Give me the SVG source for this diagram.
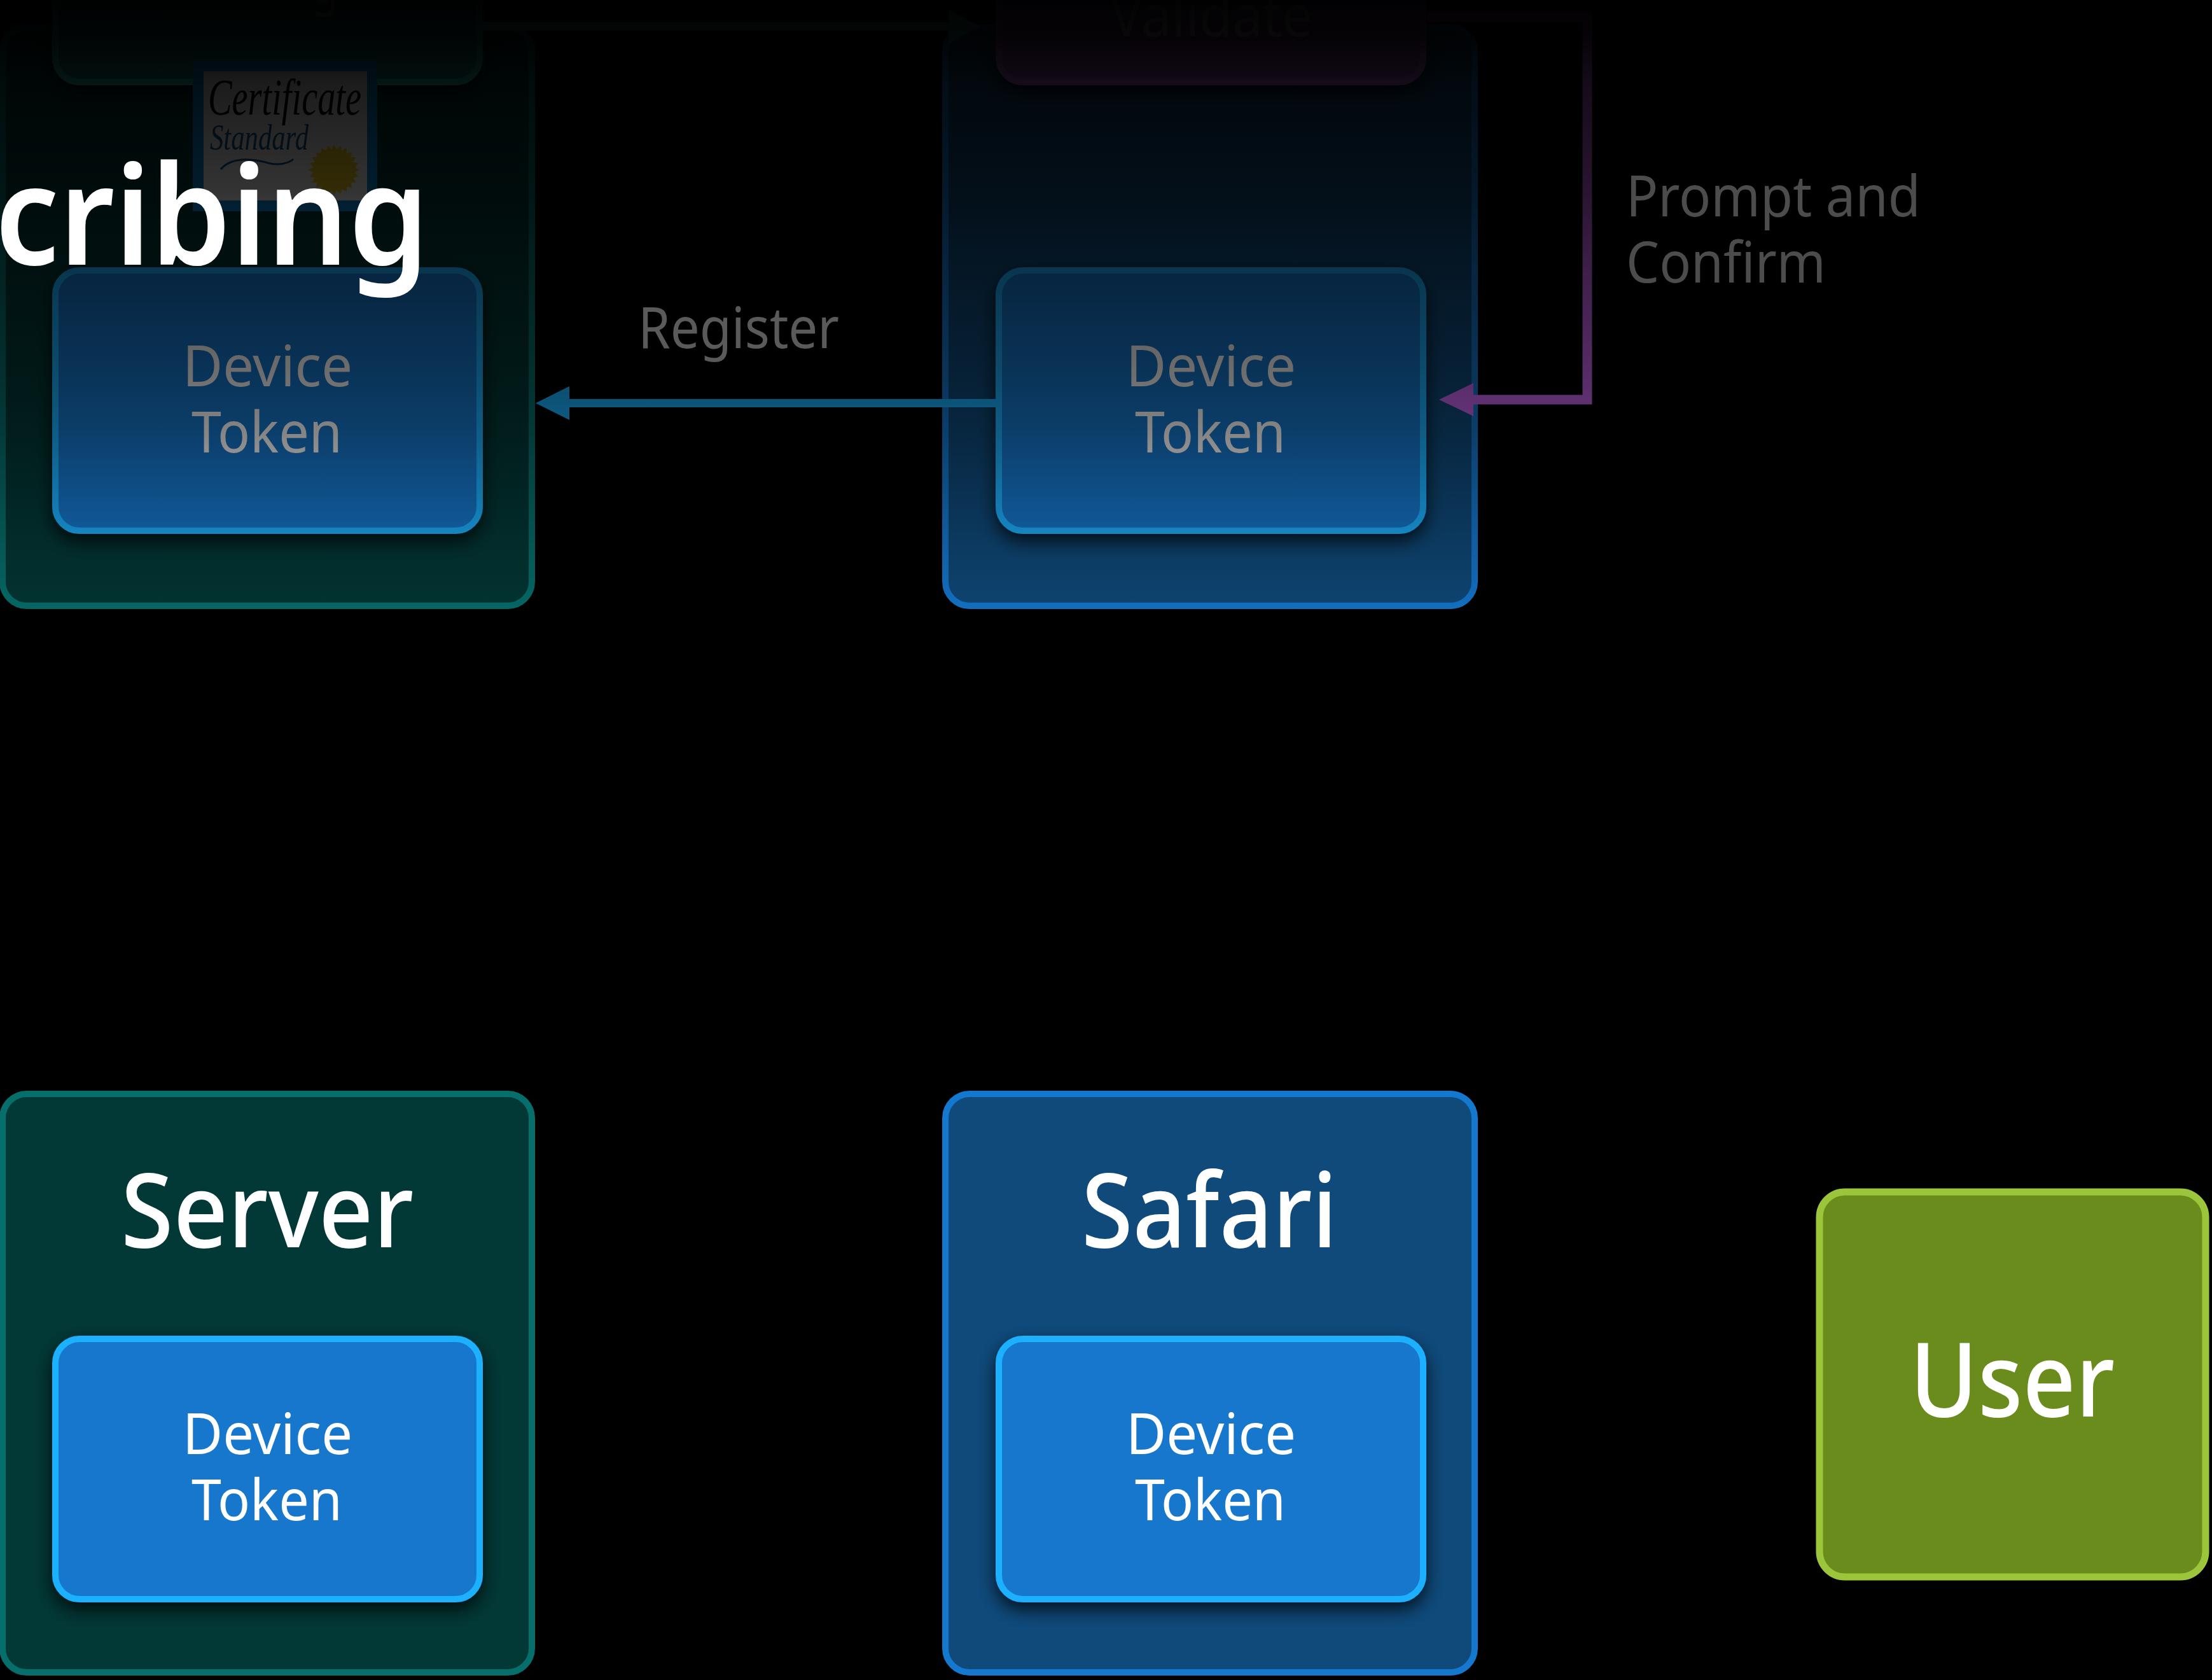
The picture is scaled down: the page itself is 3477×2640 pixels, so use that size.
<svg xmlns="http://www.w3.org/2000/svg" width="3477" height="2640" viewBox="0 0 3477 2640">
<style>
text{font-family:"Noto Sans","Open Sans","Liberation Sans",sans-serif;fill:#fff}
.t{font-size:90px}
.h{font-size:162px;font-weight:550}
.srv{fill:#023836;stroke:#066f6c;stroke-width:10}
.saf{fill:#0f4a7b;stroke:#1478cf;stroke-width:10}
.tok{fill:#1377cc;stroke:#1ab0ff;stroke-width:10;filter:url(#sh)}
.tel{fill:#0a8a80;stroke:#2fc8c0;stroke-width:10;filter:url(#sh)}
.val{fill:#a050c0;stroke:#c866ee;stroke-width:10;filter:url(#sh)}
.lb{fill:#5a5a5a}
</style>
<defs>
<filter id="sh" x="-10%" y="-10%" width="120%" height="125%"><feDropShadow dx="0" dy="12" stdDeviation="14" flood-color="#000" flood-opacity=".75"/></filter>
<linearGradient id="fade" gradientUnits="userSpaceOnUse" x1="0" y1="0" x2="0" y2="1000">
<stop offset="0" stop-color="#000" stop-opacity=".99"/>
<stop offset=".06" stop-color="#000" stop-opacity=".965"/>
<stop offset=".134" stop-color="#000" stop-opacity=".89"/>
<stop offset=".3" stop-color="#000" stop-opacity=".8"/>
<stop offset=".43" stop-color="#000" stop-opacity=".69"/>
<stop offset=".59" stop-color="#000" stop-opacity=".57"/>
<stop offset=".68" stop-color="#000" stop-opacity=".48"/>
<stop offset=".83" stop-color="#000" stop-opacity=".26"/>
<stop offset=".957" stop-color="#000" stop-opacity=".08"/>
<stop offset="1" stop-color="#000" stop-opacity="0"/>
</linearGradient>
</defs>
<rect width="3477" height="2640" fill="#000"/>

<g id="server-top"><rect class="srv" x="4" y="43" width="832" height="909" rx="38"/></g>
<g id="safari-top"><rect class="saf" x="1486" y="43" width="832" height="909" rx="38"/></g>
<g id="server-upper-box"><rect class="tel" x="87" y="-280" width="667" height="409" rx="38"/><text class="t" x="490" y="5" textLength="42" lengthAdjust="spacingAndGlyphs">g</text></g>
<g id="safari-validate"><rect class="val" x="1570" y="-280" width="667" height="409" rx="38"/><text class="t" x="1745" y="57" textLength="318" lengthAdjust="spacingAndGlyphs">Validate</text></g>
<g id="certificate">
<rect x="303" y="95" width="290" height="237" fill="#0a8fe0"/>
<rect x="320" y="112" width="257" height="203" fill="#fff"/>
<text x="327" y="180" font-size="80" textLength="241" lengthAdjust="spacingAndGlyphs" style="font-family:'Liberation Serif',serif;font-style:italic;fill:#000">Certificate</text>
<text x="330" y="235" font-size="56" textLength="155" lengthAdjust="spacingAndGlyphs" style="font-family:'Liberation Serif',serif;font-style:italic;fill:#0a5a9a">Standard</text>
<path d="M347 266C365 245 400 250 425 257C440 260 455 256 461 250" fill="none" stroke="#0a5a9a" stroke-width="3"/>
<polygon transform="translate(525 267)" fill="#ffd820" points="40,0 32.7,4.3 38.6,10.4 30.5,12.6 34.6,20 26.2,20.1 28.3,28.3 20.1,26.2 20,34.6 12.6,30.5 10.4,38.6 4.3,32.7 0,40 -4.3,32.7 -10.4,38.6 -12.6,30.5 -20,34.6 -20.1,26.2 -28.3,28.3 -26.2,20.1 -34.6,20 -30.5,12.6 -38.6,10.4 -32.7,4.3 -40,0 -32.7,-4.3 -38.6,-10.4 -30.5,-12.6 -34.6,-20 -26.2,-20.1 -28.3,-28.3 -20.1,-26.2 -20,-34.6 -12.6,-30.5 -10.4,-38.6 -4.3,-32.7 0,-40 4.3,-32.7 10.4,-38.6 12.6,-30.5 20,-34.6 20.1,-26.2 28.3,-28.3 26.2,-20.1 34.6,-20 30.5,-12.6 38.6,-10.4 32.7,-4.3"/>
</g>
<g id="server-token-top"><rect class="tok" x="87" y="425" width="667" height="409" rx="38"/><text class="t" x="287" y="607" textLength="267" lengthAdjust="spacingAndGlyphs">Device</text><text class="t" x="301" y="711" textLength="237" lengthAdjust="spacingAndGlyphs">Token</text></g>
<g id="safari-token-top"><rect class="tok" x="1570" y="425" width="667" height="409" rx="38"/><text class="t" x="1770" y="607" textLength="267" lengthAdjust="spacingAndGlyphs">Device</text><text class="t" x="1784" y="711" textLength="237" lengthAdjust="spacingAndGlyphs">Token</text></g>

<g id="connectors">
<path d="M759 41.500H1491" fill="none" stroke="#3ce0d0" stroke-width="13"/>
<polygon points="1541,41.500 1491,15 1491,68" fill="#3ce0d0"/>
<path d="M2243 27H2495V628H2316" fill="none" stroke="#c866ee" stroke-width="15"/>
<polygon points="2262,628 2316,602 2316,654" fill="#c866ee"/>
<path d="M1565 633.500H895" fill="none" stroke="#1ab0ff" stroke-width="13"/>
<polygon points="842,633.500 895,607 895,660" fill="#1ab0ff"/>
</g>

<rect id="fade-overlay" x="0" y="0" width="3477" height="1000" fill="url(#fade)"/>

<g id="labels">
<text class="t lb" x="1003" y="547" textLength="316" lengthAdjust="spacingAndGlyphs">Register</text>
<text class="t" x="2556" y="340" textLength="463" lengthAdjust="spacingAndGlyphs" style="fill:#4c4c4c">Prompt and</text>
<text class="t" x="2556" y="444" textLength="314" lengthAdjust="spacingAndGlyphs" style="fill:#4c4c4c">Confirm</text>
</g>

<g id="title"><text x="-8" y="416" font-size="218" font-weight="600" textLength="682" lengthAdjust="spacingAndGlyphs">cribing</text></g>

<g id="server">
<rect class="srv" x="4" y="1719" width="832" height="909" rx="38"/>
<text class="h" x="190" y="1960" textLength="460" lengthAdjust="spacingAndGlyphs">Server</text>
</g>
<g id="server-token"><rect class="tok" x="87" y="2104" width="667" height="409" rx="38"/><text class="t" x="287" y="2285" textLength="267" lengthAdjust="spacingAndGlyphs">Device</text><text class="t" x="301" y="2389" textLength="237" lengthAdjust="spacingAndGlyphs">Token</text></g>
<g id="safari">
<rect class="saf" x="1486" y="1719" width="832" height="909" rx="38"/>
<text class="h" x="1700" y="1960" textLength="402" lengthAdjust="spacingAndGlyphs">Safari</text>
</g>
<g id="safari-token"><rect class="tok" x="1570" y="2104" width="667" height="409" rx="38"/><text class="t" x="1770" y="2285" textLength="267" lengthAdjust="spacingAndGlyphs">Device</text><text class="t" x="1784" y="2389" textLength="237" lengthAdjust="spacingAndGlyphs">Token</text></g>
<g id="user">
<rect x="2860" y="1873" width="607" height="605" rx="40" fill="#6a8c1c" stroke="#9bc53a" stroke-width="11"/>
<text class="h" x="3002" y="2226" textLength="322" lengthAdjust="spacingAndGlyphs">User</text>
</g>
</svg>
